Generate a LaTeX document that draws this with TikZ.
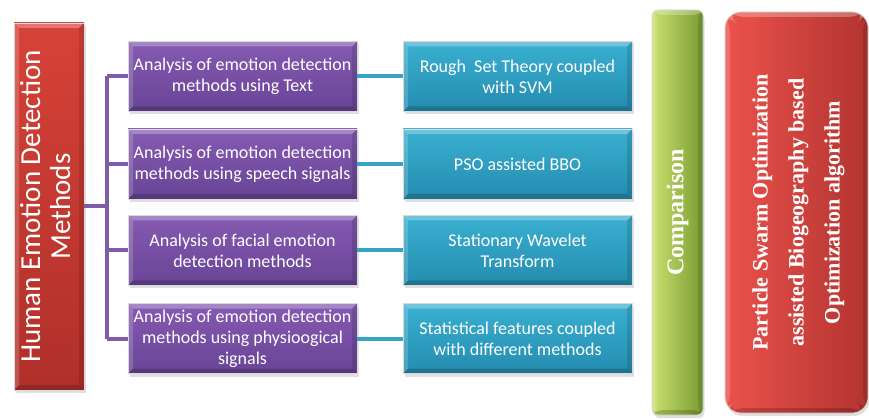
\documentclass[tikz,border=0pt]{standalone}
\usepackage{fontspec}
\setmainfont{Carlito}
\newfontfamily\serifhead{Liberation Serif}
\usepackage{xcolor}
\usetikzlibrary{shadows}

\begin{document}
\begin{tikzpicture}[x=1pt,y=-1pt,
  % bevelled box with a soft shadow
  bevel/.style={path picture={
      \path (path picture bounding box.south west) coordinate (bl)
            (path picture bounding box.north east) coordinate (tr);
      \fill[white,opacity=.28] (bl|-tr) -- (tr) -- ([shift={(-5pt,-5pt)}]tr)
            -- ([shift={(5pt,-5pt)}]bl|-tr) -- cycle;
      \fill[white,opacity=.18] (bl) -- (bl|-tr) -- ([shift={(5pt,-5pt)}]bl|-tr)
            -- ([shift={(5pt,5pt)}]bl) -- cycle;
      \fill[black,opacity=.18] (bl) -- (tr|-bl) -- ([shift={(-5pt,5pt)}]tr|-bl)
            -- ([shift={(5pt,5pt)}]bl) -- cycle;
      \fill[black,opacity=.12] (tr|-bl) -- (tr) -- ([shift={(-5pt,-5pt)}]tr)
            -- ([shift={(-5pt,5pt)}]tr|-bl) -- cycle;}},
  box/.style={bevel, draw=black!15, line width=.6pt, text=white, align=center,
      inner sep=0pt, drop shadow={opacity=.25, shadow xshift=1.5pt, shadow yshift=-3pt}},
  methodbox/.style={box, top color=methtop, bottom color=methbot,
      minimum width=229pt, minimum height=70pt, font=\fontsize{18}{21}\selectfont},
  techbox/.style={box, top color=techtop, bottom color=techbot,
      minimum width=229pt, minimum height=70pt, font=\fontsize{18}{21}\selectfont},
  branch/.style={draw=methline, line width=4pt},
  link/.style={draw=techline, line width=4pt}]

% Define colours
\definecolor{headtop}{RGB}{214,66,56}
\definecolor{headbot}{RGB}{176,48,42}
\definecolor{methtop}{RGB}{134,90,178}
\definecolor{methbot}{RGB}{104,68,150}
\definecolor{methline}{RGB}{126,92,170}
\definecolor{techtop}{RGB}{58,176,208}
\definecolor{techbot}{RGB}{36,140,176}
\definecolor{techline}{RGB}{56,164,196}
\definecolor{cmpleft}{RGB}{200,224,110}
\definecolor{cmpright}{RGB}{122,156,50}
\definecolor{psoleft}{RGB}{236,82,76}
\definecolor{psoright}{RGB}{178,52,48}

% Page size
\useasboundingbox (0,0) rectangle (869,419);

% Root box on the left
\node[box, top color=headtop, bottom color=headbot, minimum width=70pt,
      minimum height=367pt] (hed) at (49,206.5)
  {\rotatebox{90}{\fontsize{29}{30}\selectfont
   \begin{tabular}{@{}c@{}}Human Emotion Detection\\Methods\end{tabular}}};

% Method boxes and their techniques
\node[methodbox] (a1) at (242.5,76.5) {Analysis of emotion detection\\methods using Text};
\node[methodbox] (a2) at (242.5,164) {Analysis of emotion detection\\methods using speech signals};
\node[methodbox] (a3) at (242.5,250.5) {Analysis of facial emotion\\detection methods};
\node[methodbox] (a4) at (242.5,338.5) {Analysis of emotion detection\\methods using physioogical\\signals};

\node[techbox] (b1) at (517.5,76.5) {Rough~ Set Theory coupled\\with SVM};
\node[techbox] (b2) at (517.5,164) {PSO assisted BBO};
\node[techbox] (b3) at (517.5,250.5) {Stationary Wavelet\\Transform};
\node[techbox] (b4) at (517.5,338.5) {Statistical features coupled\\with different methods};

% Tree lines
\coordinate (trunk) at (107,0);
\draw[branch] (hed.east) -- (hed.east -| trunk);
\draw[branch] (trunk |- a1.west) -- (trunk |- a4.west);
\foreach \i in {1,...,4}{
  \draw[branch] (trunk |- a\i.west) -- (a\i.west);
  \draw[link] (a\i.east) -- (b\i.west);
}

% Comparison bar and the proposed algorithm
\node[box, rounded corners=6pt, left color=cmpleft, right color=cmpright,
      minimum width=51pt, minimum height=405pt] (cmp) at (677.5,212.5)
  {\rotatebox{90}{\serifhead\bfseries\fontsize{24}{36}\selectfont Comparison}};
\node[box, rounded corners=16pt, left color=psoleft, right color=psoright,
      minimum width=143pt, minimum height=401pt] (pso) at (796.5,212.5)
  {\rotatebox{90}{\serifhead\bfseries\fontsize{22}{36}\selectfont
   \begin{tabular}{@{}c@{}}Particle Swarm Optimization\\assisted Biogeography based\\Optimization algorithm\end{tabular}}};
\end{tikzpicture}
\end{document}
